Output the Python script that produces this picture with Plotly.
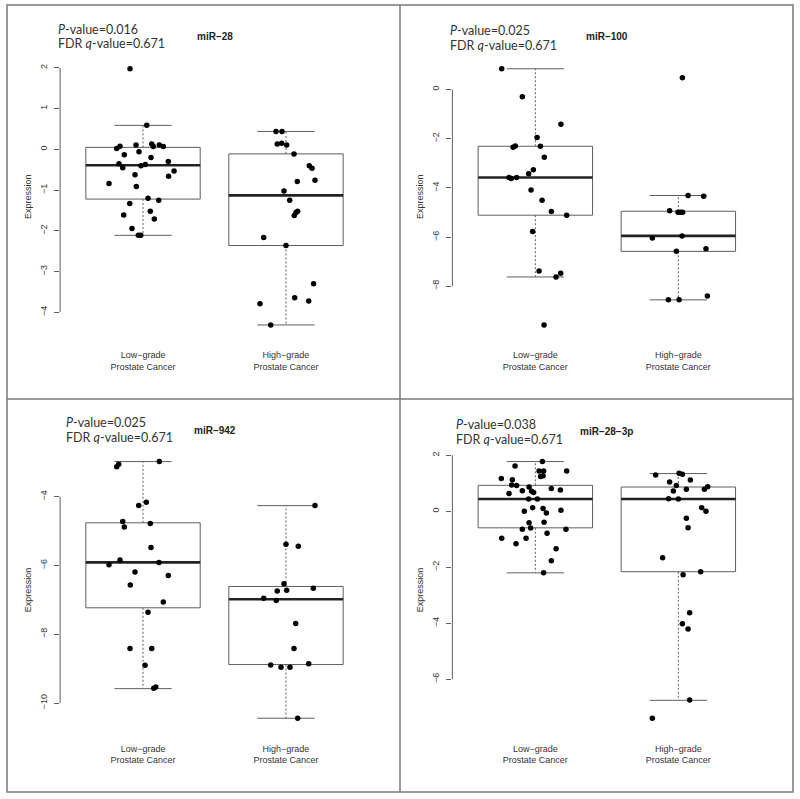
import plotly.graph_objects as go

# ---------------- data ----------------
GROUPS = ["Low−grade<br>Prostate Cancer", "High−grade<br>Prostate Cancer"]
GROUP_POS = [1, 2]

TITLES = ["miR−28", "miR−100", "miR−942", "miR−28−3p"]
P_VALUES = ["0.016", "0.025", "0.025", "0.038"]
Q_VALUES = ["0.671", "0.671", "0.671", "0.671"]

# miR-28
MIR28_LOW = [1.98, 0.59, 0.02, 0.08, 0.11, 0.13, 0.07, 0.11, 0.07, -0.06, -0.13, -0.20, -0.30,
             -0.35, -0.45, -0.37, -0.40, -0.53, -0.62, -0.66, -0.84, -0.91, -1.20, -1.25, -1.33,
             -1.52, -1.61, -1.71, -1.94, -2.11, -2.11]
MIR28_LOW_JIT = [-0.091, 0.026, -0.184, -0.161, -0.049, 0.061, 0.072, 0.114, 0.142, -0.028, -0.131,
                 0.056, 0.177, -0.168, -0.142, 0.016, -0.014, 0.217, -0.056, 0.179, -0.238, -0.047,
                 0.035, 0.110, -0.093, 0.051, -0.135, 0.079, -0.077, -0.033, -0.016]
MIR28_HIGH = [0.44, 0.44, 0.13, 0.15, 0.11, -0.11, -0.40, -0.46, -0.76, -0.79, -1.02, -1.25, -1.52,
              -1.55, -1.62, -2.16, -2.36, -3.30, -3.64, -3.72, -3.79, -4.31]
MIR28_HIGH_JIT = [-0.070, -0.028, -0.061, -0.030, 0.005, 0.056, 0.163, 0.182, 0.203, 0.079, -0.014,
                  0.026, 0.082, 0.070, 0.058, -0.156, 0.000, 0.193, 0.061, 0.159, -0.182, -0.107]
# box stats per group: [lower whisker, Q1, median, Q3, upper whisker]
MIR28_STATS = [[-2.11, -1.22, -0.39, 0.05, 0.59], [-4.31, -2.36, -1.13, -0.11, 0.44]]
MIR28_TICKS = [-4, -3, -2, -1, 0, 1, 2]

# miR-100
MIR100_LOW = [0.84, -0.30, -1.42, -1.95, -2.35, -2.30, -2.31, -2.76, -3.26, -3.43, -3.58, -3.62,
              -3.58, -4.09, -4.50, -4.96, -5.11, -5.77, -7.38, -7.47, -7.62, -9.57]
MIR100_LOW_JIT = [-0.235, -0.091, 0.179, 0.012, -0.156, -0.140, 0.035, 0.063, -0.014, -0.047, -0.184,
                  -0.168, -0.131, -0.030, 0.047, 0.112, 0.219, -0.019, 0.026, 0.177, 0.145, 0.061]
MIR100_HIGH = [0.47, -4.31, -4.34, -4.93, -4.99, -4.99, -4.99, -6.04, -5.96, -6.47, -6.58, -8.55,
               -8.55, -8.39]
MIR100_HIGH_JIT = [0.028, 0.068, 0.177, -0.061, -0.002, 0.014, 0.030, -0.182, 0.026, 0.193, -0.014,
                   -0.070, 0.005, 0.203]
MIR100_STATS = [[-7.62, -5.11, -3.58, -2.31, 0.84], [-8.55, -6.58, -5.95, -4.95, -4.31]]
MIR100_TICKS = [-8, -6, -4, -2, 0]

# miR-942
MIR942_LOW = [-2.98, -3.13, -3.06, -4.16, -4.26, -4.72, -4.88, -4.78, -5.48, -5.84, -5.98, -5.91,
              -6.19, -6.29, -6.57, -7.06, -7.36, -8.41, -8.41, -8.90, -9.57, -9.53]
MIR942_LOW_JIT = [0.114, -0.184, -0.170, 0.023, -0.030, -0.142, -0.131, 0.051, 0.056, -0.161, -0.238,
                  0.112, -0.056, 0.177, -0.089, 0.142, 0.035, -0.091, 0.061, 0.014, 0.075, 0.089]
MIR942_HIGH = [-4.26, -5.38, -5.44, -6.53, -6.74, -6.72, -6.66, -6.95, -7.02, -7.69, -8.41, -8.89,
               -8.96, -8.96, -8.86, -10.44]
MIR942_HIGH_JIT = [0.203, 0.000, 0.086, -0.014, -0.061, 0.005, 0.191, -0.156, -0.068, 0.068, 0.056,
                   -0.107, -0.035, 0.028, 0.159, 0.082]
MIR942_STATS = [[-9.58, -7.23, -5.91, -4.76, -2.98], [-10.44, -8.88, -6.98, -6.61, -4.26]]
MIR942_TICKS = [-10, -8, -6, -4]

# miR-28-3p
MIR283P_LOW = [1.78, 1.62, 1.44, 1.44, 1.44, 1.25, 1.27, 1.17, 1.13, 0.94, 0.92, 0.87, 0.82, 0.74,
               0.76, 0.72, 0.67, 0.64, 0.44, 0.44, 0.13, 0.10, 0.00, 0.04, -0.06, -0.41, -0.39,
               -0.64, -0.60, -0.64, -0.78, -0.96, -0.96, -1.16, -1.34, -1.77, -2.20]
MIR283P_LOW_JIT = [0.049, -0.142, 0.026, 0.058, 0.219, 0.037, 0.054, -0.238, -0.161, -0.166, -0.131,
                   -0.044, 0.112, -0.091, 0.175, -0.026, -0.012, -0.184, -0.047, 0.014, -0.019,
                   0.054, -0.077, 0.179, 0.077, -0.044, 0.061, -0.091, -0.033, 0.214, 0.082,
                   -0.235, -0.065, -0.135, 0.145, 0.112, 0.058]
MIR283P_HIGH = [1.30, 1.36, 1.33, 1.05, 1.12, 0.92, 0.88, 0.79, 0.73, 0.79, 0.45, 0.44, 0.13, 0.00,
                -0.25, -0.59, -1.66, -2.27, -2.16, -3.63, -4.02, -4.21, -6.75, -7.40]
MIR283P_HIGH_JIT = [-0.159, 0.005, 0.028, -0.061, 0.084, -0.014, 0.205, 0.182, -0.035, 0.056,
                    -0.068, 0.000, 0.163, 0.193, 0.056, 0.068, -0.110, 0.033, 0.156, 0.079, 0.028,
                    0.068, 0.079, -0.182]
MIR283P_STATS = [[-2.20, -0.59, 0.44, 0.93, 1.78], [-6.76, -2.16, 0.44, 0.87, 1.35]]
MIR283P_TICKS = [-6, -4, -2, 0, 2]

# ---------------- figure construction ----------------
W, H = 800, 799
BOX_HALF = 0.4
CAP_HALF = 0.2
EDGE = "#5e5e5e"
R_FONT = "Liberation Sans, Arial, sans-serif"
TXT_FONT = "Lato, Carlito, sans-serif"


def px_x(p):
    return p / W


def px_y(p):
    return 1 - p / H


panels = [
    (TITLES[0], P_VALUES[0], Q_VALUES[0], [MIR28_LOW, MIR28_HIGH], [MIR28_LOW_JIT, MIR28_HIGH_JIT], MIR28_STATS, MIR28_TICKS),
    (TITLES[1], P_VALUES[1], Q_VALUES[1], [MIR100_LOW, MIR100_HIGH], [MIR100_LOW_JIT, MIR100_HIGH_JIT], MIR100_STATS, MIR100_TICKS),
    (TITLES[2], P_VALUES[2], Q_VALUES[2], [MIR942_LOW, MIR942_HIGH], [MIR942_LOW_JIT, MIR942_HIGH_JIT], MIR942_STATS, MIR942_TICKS),
    (TITLES[3], P_VALUES[3], Q_VALUES[3], [MIR283P_LOW, MIR283P_HIGH], [MIR283P_LOW_JIT, MIR283P_HIGH_JIT], MIR283P_STATS, MIR283P_TICKS),
]

# plot regions in pixels (x0, x1, y0, y1) and text anchors
regions = [(60.1, 368.9, 58.5, 335.2), (452.4, 761.3, 58.5, 335.2),
           (60.1, 368.9, 451.3, 728.5), (452.4, 761.3, 451.3, 728.5)]
ptext_pos = [(56, 29.0, 44.0), (448.3, 30.3, 45.0), (64, 422.3, 437.3), (454, 424.0, 439.0)]
title_y = [36.7, 36.3, 430.3, 431]

fig = go.Figure()
layout = dict(width=W, height=H, margin=dict(l=0, r=0, t=0, b=0),
              paper_bgcolor="white", plot_bgcolor="white", showlegend=False)
annotations = []
shapes = []

for i, (title, pv, qv, vals, jits, stats, ticks) in enumerate(panels):
    n = i + 1
    xa = "x" if n == 1 else f"x{n}"
    ya = "y" if n == 1 else f"y{n}"
    x0, x1, y0, y1 = regions[i]

    # boxes
    bx, by, mx, my, wx, wy, cx, cy = [], [], [], [], [], [], [], []
    for pos, (lw, q1, med, q3, uw) in zip(GROUP_POS, stats):
        bx += [pos - BOX_HALF, pos + BOX_HALF, pos + BOX_HALF, pos - BOX_HALF, pos - BOX_HALF, None]
        by += [q1, q1, q3, q3, q1, None]
        mx += [pos - BOX_HALF, pos + BOX_HALF, None]
        my += [med, med, None]
        wx += [pos, pos, None, pos, pos, None]
        wy += [q3, uw, None, q1, lw, None]
        cx += [pos - CAP_HALF, pos + CAP_HALF, None, pos - CAP_HALF, pos + CAP_HALF, None]
        cy += [uw, uw, None, lw, lw, None]
    fig.add_trace(go.Scatter(x=wx, y=wy, mode="lines", line=dict(color=EDGE, width=1, dash="2px,2px"),
                             xaxis=xa, yaxis=ya, hoverinfo="skip"))
    fig.add_trace(go.Scatter(x=cx, y=cy, mode="lines", line=dict(color=EDGE, width=1),
                             xaxis=xa, yaxis=ya, hoverinfo="skip"))
    fig.add_trace(go.Scatter(x=bx, y=by, mode="lines", line=dict(color=EDGE, width=1),
                             xaxis=xa, yaxis=ya, hoverinfo="skip"))
    fig.add_trace(go.Scatter(x=mx, y=my, mode="lines", line=dict(color="#222222", width=2.6),
                             xaxis=xa, yaxis=ya, hoverinfo="skip"))
    # points
    for pos, v, j in zip(GROUP_POS, vals, jits):
        fig.add_trace(go.Scatter(x=[pos + d for d in j], y=v, mode="markers",
                                 marker=dict(color="black", size=5.5),
                                 xaxis=xa, yaxis=ya))

    # R-style ranges (data extended by 4%)
    allv = vals[0] + vals[1] + [s for g in stats for s in g]
    lo, hi = min(allv), max(allv)
    ext = 0.04 * (hi - lo)
    xr = [GROUP_POS[0] - 0.5 - 0.04 * 2, GROUP_POS[1] + 0.5 + 0.04 * 2]

    layout["xaxis" if n == 1 else f"xaxis{n}"] = dict(
        domain=[px_x(x0), px_x(x1)], anchor=ya, range=xr,
        tickvals=GROUP_POS, ticktext=GROUPS, showline=False, showgrid=False, zeroline=False,
        ticks="", tickfont=dict(family=R_FONT, size=9, color="#333333"),
        ticklabelstandoff=13)
    layout["yaxis" if n == 1 else f"yaxis{n}"] = dict(
        domain=[px_y(y1), px_y(y0)], anchor=xa, range=[lo - ext, hi + ext],
        tickvals=ticks, ticks="outside", ticklen=5, tickcolor=EDGE, tickwidth=1,
        showline=False, showgrid=False, zeroline=False, tickangle=-90,
        tickfont=dict(family=R_FONT, size=9, color="#333333"), ticklabelstandoff=4,
        title=dict(text="Expression", font=dict(family=R_FONT, size=9, color="#333333"), standoff=5))

    # axis line spanning first to last tick
    shapes.append(dict(type="line", xref=f"{xa} domain", yref=ya, x0=0, x1=0,
                       y0=ticks[0], y1=ticks[-1], line=dict(color=EDGE, width=1)))

    # title
    annotations.append(dict(text=f"<b>{title}</b>", xref="paper", yref="paper",
                            x=px_x((x0 + x1) / 2), y=px_y(title_y[i]), xanchor="center",
                            yanchor="middle", showarrow=False,
                            font=dict(family=R_FONT, size=10, color="#222222")))
    # p/q values
    tx, ty1, ty2 = ptext_pos[i]
    annotations.append(dict(text=f"<i>P</i>-value={pv}",
                            xref="paper", yref="paper", x=px_x(tx), y=px_y(ty1),
                            xanchor="left", yanchor="middle", align="left", showarrow=False,
                            font=dict(family=TXT_FONT, size=12.5, color="#333333")))
    annotations.append(dict(text=f"FDR <i>q</i>-value={qv}",
                            xref="paper", yref="paper", x=px_x(tx), y=px_y(ty2),
                            xanchor="left", yanchor="middle", align="left", showarrow=False,
                            font=dict(family=TXT_FONT, size=12.5, color="#333333")))

# panel borders
BORDER = dict(color="#7a7a7a", width=1.5)
shapes.append(dict(type="rect", xref="paper", yref="paper", x0=px_x(7), x1=px_x(793),
                   y0=px_y(792), y1=px_y(5), line=BORDER))
shapes.append(dict(type="line", xref="paper", yref="paper", x0=px_x(400), x1=px_x(400),
                   y0=px_y(792), y1=px_y(5), line=BORDER))
shapes.append(dict(type="line", xref="paper", yref="paper", x0=px_x(7), x1=px_x(793),
                   y0=px_y(399), y1=px_y(399), line=BORDER))

layout["annotations"] = annotations
layout["shapes"] = shapes
fig.update_layout(**layout)
fig.write_html("out.html", config={"displayModeBar": False},
               post_script="document.body.style.margin='0';document.body.style.overflow='hidden';")
